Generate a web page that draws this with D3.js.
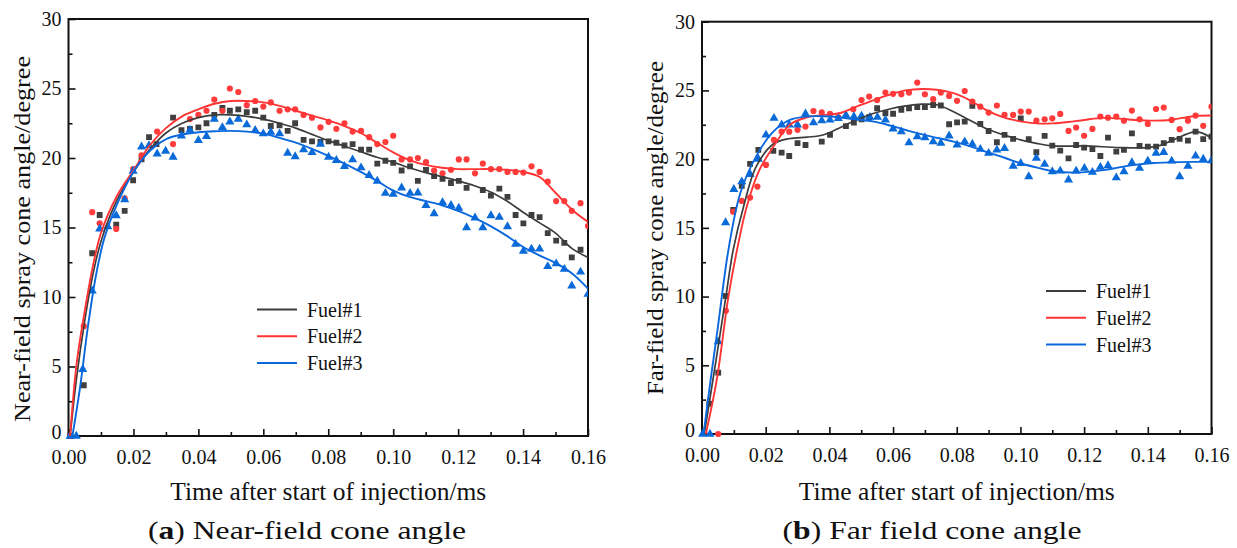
<!DOCTYPE html>
<html><head><meta charset="utf-8">
<script src="https://cdn.jsdelivr.net/npm/d3@7"></script>
<style>
html,body{margin:0;padding:0;background:#fff;}
svg{display:block;}
text{font-family:"Liberation Serif","Times New Roman",Times,serif;fill:#111;}
</style></head><body>
<svg id="chart" width="1237" height="548"></svg>
<script>
// ---------- DATA ----------
const seriesNames = ["Fuel#1", "Fuel#2", "Fuel#3"];
const xTicks = [0, 0.02, 0.04, 0.06, 0.08, 0.10, 0.12, 0.14, 0.16];
const yTicks = [0, 5, 10, 15, 20, 25, 30];

// (a) Near-field measured points [time ms, angle deg]
const nearFuel1 = [[0.0005,0],[0.0047,3.65],[0.0073,13.15],[0.0096,15.9],[0.0147,15.2],[0.0173,16.2],[0.0199,18.4],[0.0225,19.9],[0.0248,21.5],[0.0271,21.0],[0.0322,22.9],[0.0348,22.0],[0.0374,22.1],[0.04,22.2],[0.0425,22.5],[0.0449,23.1],[0.0474,23.6],[0.0497,23.4],[0.0523,23.5],[0.0549,23.3],[0.0575,23.4],[0.06,22.9],[0.0623,22.3],[0.065,22.35],[0.0675,21.95],[0.0698,22.5],[0.0724,21.3],[0.075,21.2],[0.0776,21.15],[0.0801,21.2],[0.0825,21.1],[0.085,20.9],[0.0875,21.0],[0.0901,20.6],[0.0926,20.6],[0.0951,19.6],[0.0976,19.8],[0.1,19.65],[0.1026,19.1],[0.1052,19.4],[0.1076,18.35],[0.1101,19.15],[0.1126,18.7],[0.1152,18.5],[0.1178,18.2],[0.1202,18.35],[0.1226,17.85],[0.1276,17.7],[0.1301,17.3],[0.1327,17.8],[0.1352,17.2],[0.1377,15.9],[0.1401,15.3],[0.1426,15.9],[0.1451,15.75],[0.1476,14.6],[0.1502,14.05],[0.1527,13.9],[0.155,12.85],[0.1577,13.4]];
const nearFuel2 = [[0.0005,0],[0.0047,7.9],[0.0073,16.1],[0.0096,15.3],[0.0147,14.9],[0.0173,17.1],[0.0199,19.2],[0.0225,20.2],[0.0273,21.9],[0.0322,21.0],[0.0374,22.8],[0.04,23.1],[0.0425,23.4],[0.0449,24.2],[0.0474,23.4],[0.0497,25.0],[0.0523,24.75],[0.0549,23.8],[0.0575,24.1],[0.06,23.7],[0.0623,24.0],[0.065,23.4],[0.0675,23.5],[0.0698,23.5],[0.0724,23.1],[0.075,22.9],[0.0776,22.2],[0.0801,22.6],[0.0825,22.1],[0.085,22.5],[0.0875,21.9],[0.0901,21.95],[0.0926,21.5],[0.0951,21.0],[0.0976,21.15],[0.1,21.6],[0.1026,19.9],[0.1052,19.9],[0.1076,20.0],[0.1101,19.7],[0.1126,19.1],[0.1152,18.9],[0.1178,19.15],[0.1202,19.9],[0.1226,19.9],[0.1252,18.9],[0.1276,19.6],[0.1301,19.2],[0.1327,19.2],[0.1352,19.0],[0.1377,19.0],[0.1401,18.95],[0.1426,19.4],[0.1451,19.0],[0.1476,18.3],[0.1502,16.9],[0.1527,16.9],[0.155,16.2],[0.1577,16.75],[0.16,15.1]];
const nearFuel3 = [[0.0005,0],[0.0024,0],[0.0044,4.8],[0.0073,10.45],[0.0096,14.9],[0.0121,15.07],[0.0147,15.86],[0.0173,17.0],[0.0199,19.06],[0.0225,20.8],[0.0248,20.9],[0.0273,20.3],[0.0299,20.5],[0.0322,20.07],[0.0348,21.6],[0.0374,22.0],[0.04,21.27],[0.0425,21.56],[0.0449,22.8],[0.0474,22.2],[0.0497,22.6],[0.0523,22.8],[0.0549,22.4],[0.0575,21.99],[0.06,21.75],[0.0623,21.87],[0.065,21.75],[0.0675,20.36],[0.0698,20.1],[0.0724,20.6],[0.075,20.4],[0.0776,21.0],[0.0801,20.07],[0.0825,19.83],[0.085,19.4],[0.0875,19.88],[0.0901,19.3],[0.0926,18.75],[0.0951,18.34],[0.0976,17.47],[0.1,17.4],[0.1026,17.85],[0.1052,17.47],[0.1076,17.5],[0.1101,16.6],[0.1126,16.0],[0.1152,16.8],[0.1178,16.6],[0.1202,16.4],[0.1226,15.0],[0.1252,15.7],[0.1276,15.0],[0.1301,15.86],[0.1327,15.74],[0.1352,15.07],[0.1377,13.8],[0.1401,13.3],[0.1426,13.46],[0.1451,13.46],[0.1476,12.2],[0.1502,12.4],[0.1527,12.0],[0.155,10.8],[0.1577,11.8],[0.16,10.2]];

// (a) Near-field fitted curves
const nearFit1 = [[0.0005,0],[0.0025,4.2],[0.005,8.3],[0.0075,11.6],[0.01,14.0],[0.015,17.0],[0.02,19.0],[0.025,20.6],[0.03,21.8],[0.035,22.5],[0.04,22.9],[0.045,23.1],[0.05,23.1],[0.055,23.0],[0.06,22.8],[0.065,22.5],[0.07,22.15],[0.075,21.7],[0.08,21.25],[0.085,20.85],[0.09,20.45],[0.095,20.05],[0.1,19.7],[0.105,19.3],[0.11,18.95],[0.115,18.65],[0.12,18.35],[0.125,18.0],[0.13,17.55],[0.135,16.9],[0.14,16.1],[0.145,15.35],[0.15,14.6],[0.155,13.5],[0.16,12.85]];
const nearFit2 = [[0.0005,0],[0.0025,5.2],[0.005,9.0],[0.0075,12.2],[0.01,14.6],[0.015,17.3],[0.02,19.1],[0.025,20.9],[0.03,22.15],[0.035,23.0],[0.04,23.5],[0.045,23.9],[0.05,24.1],[0.055,24.1],[0.06,24.0],[0.065,23.75],[0.07,23.4],[0.075,23.05],[0.08,22.7],[0.085,22.3],[0.09,21.8],[0.095,21.1],[0.1,20.4],[0.105,19.85],[0.11,19.5],[0.115,19.3],[0.12,19.2],[0.125,19.2],[0.13,19.2],[0.135,19.15],[0.14,19.0],[0.145,18.65],[0.15,17.5],[0.155,16.3],[0.16,15.4]];
const nearFit3 = [[0.0012,0],[0.0035,3.4],[0.006,7.9],[0.0085,11.6],[0.011,14.2],[0.015,16.7],[0.02,19.0],[0.025,20.5],[0.03,21.35],[0.035,21.7],[0.04,21.85],[0.045,21.92],[0.05,21.95],[0.055,21.9],[0.06,21.75],[0.065,21.45],[0.07,21.1],[0.075,20.65],[0.08,20.15],[0.085,19.6],[0.09,19.0],[0.095,18.35],[0.1,17.65],[0.105,17.2],[0.11,16.9],[0.115,16.6],[0.12,16.2],[0.125,15.7],[0.13,15.1],[0.135,14.4],[0.14,13.6],[0.145,13.0],[0.15,12.45],[0.155,11.7],[0.16,10.6]];

// (b) Far-field measured points
const farFuel1 = [[0.0023,2.2],[0.0051,4.46],[0.0075,10.04],[0.0098,16.3],[0.0125,18.05],[0.0151,19.65],[0.0177,20.67],[0.0224,20.6],[0.025,20.47],[0.0274,20.23],[0.03,21.16],[0.0325,21.03],[0.0376,21.27],[0.0402,21.76],[0.0452,22.4],[0.0477,22.66],[0.0501,22.9],[0.0525,23.05],[0.055,23.7],[0.0576,23.34],[0.06,23.3],[0.0626,23.58],[0.065,23.7],[0.0676,23.78],[0.07,23.78],[0.0726,23.94],[0.075,23.9],[0.0776,22.54],[0.0801,22.68],[0.0825,22.73],[0.0849,23.87],[0.0874,22.56],[0.09,22.05],[0.0926,21.23],[0.095,21.76],[0.0977,21.47],[0.1001,22.97],[0.1026,21.45],[0.105,20.5],[0.1076,21.69],[0.11,20.98],[0.1125,20.62],[0.1151,20.06],[0.1175,21.03],[0.12,20.84],[0.1226,20.74],[0.1251,20.23],[0.1275,21.57],[0.1301,20.55],[0.1325,20.67],[0.135,21.88],[0.1374,20.96],[0.14,20.91],[0.1426,20.91],[0.145,21.16],[0.1475,21.4],[0.15,21.47],[0.1526,21.35],[0.155,22.0],[0.1574,21.45],[0.16,21.64]];
const farFuel2 = [[0.0051,0],[0.0075,8.97],[0.0098,16.18],[0.0125,16.96],[0.0151,17.2],[0.0174,18.0],[0.0201,19.58],[0.0226,21.4],[0.025,22.0],[0.0274,22.0],[0.03,22.13],[0.0325,22.37],[0.035,23.5],[0.0376,23.4],[0.0402,23.3],[0.0428,23.05],[0.0475,23.63],[0.0501,24.3],[0.0525,24.55],[0.055,24.3],[0.0576,24.84],[0.06,24.75],[0.0626,24.72],[0.065,24.84],[0.0676,25.57],[0.07,24.72],[0.0726,24.36],[0.075,24.84],[0.0776,24.6],[0.0801,24.24],[0.0825,24.96],[0.0849,24.19],[0.0874,23.82],[0.09,23.39],[0.0926,23.9],[0.095,23.22],[0.0977,23.22],[0.1001,23.46],[0.1026,23.46],[0.105,22.8],[0.1076,22.9],[0.11,22.97],[0.1125,23.29],[0.1151,22.05],[0.1175,22.3],[0.12,21.7],[0.1226,22.2],[0.1251,23.1],[0.1275,23.02],[0.1301,23.1],[0.1325,22.8],[0.135,23.53],[0.1374,22.9],[0.14,22.56],[0.1426,23.65],[0.145,23.75],[0.1475,22.85],[0.15,22.18],[0.1526,22.8],[0.155,23.17],[0.1574,22.42],[0.16,23.82]];
const farFuel3 = [[0.0002,0],[0.0025,0],[0.0051,6.72],[0.0074,15.38],[0.01,17.8],[0.0125,18.36],[0.0151,18.9],[0.0177,20.0],[0.0201,21.76],[0.0226,22.98],[0.025,22.5],[0.0274,22.5],[0.03,22.5],[0.0325,23.3],[0.035,22.65],[0.0376,22.8],[0.0402,22.85],[0.0428,22.97],[0.0452,23.2],[0.0477,23.1],[0.0501,23.14],[0.0527,23.05],[0.0551,23.05],[0.0576,22.85],[0.06,22.2],[0.0626,22.0],[0.065,21.2],[0.0676,21.64],[0.07,21.57],[0.0726,21.27],[0.075,21.16],[0.0776,21.7],[0.0801,21.03],[0.0825,21.27],[0.0849,21.1],[0.0874,20.72],[0.09,20.43],[0.0926,20.67],[0.095,20.79],[0.0977,19.5],[0.1001,19.7],[0.1026,18.73],[0.105,20.07],[0.1076,19.63],[0.11,19.1],[0.1125,19.14],[0.1151,18.49],[0.1175,19.14],[0.1201,19.34],[0.1226,19.05],[0.1251,19.41],[0.1275,19.53],[0.1301,18.65],[0.1325,19.1],[0.135,19.75],[0.1374,19.34],[0.14,19.87],[0.1426,20.43],[0.145,20.5],[0.1475,19.87],[0.15,18.73],[0.1526,19.5],[0.155,20.23],[0.1574,20.0],[0.16,19.9]];

// (b) Far-field fitted curves
const farFit1 = [[0.0007,0],[0.0045,5.5],[0.0075,10.0],[0.0098,13.4],[0.013,16.5],[0.017,19.45],[0.0224,21.1],[0.0276,21.5],[0.033,21.6],[0.038,21.76],[0.043,22.25],[0.0485,22.85],[0.054,23.34],[0.059,23.65],[0.064,23.87],[0.069,24.0],[0.074,23.94],[0.079,23.45],[0.084,22.85],[0.089,22.25],[0.095,21.75],[0.1,21.4],[0.105,21.15],[0.11,20.96],[0.12,20.96],[0.131,20.84],[0.14,20.84],[0.144,21.0],[0.148,21.4],[0.152,21.8],[0.155,22.0],[0.158,21.8],[0.16,21.5]];
const farFit2 = [[0.0012,0],[0.0046,3.9],[0.0083,10.0],[0.011,13.4],[0.014,16.5],[0.018,19.2],[0.0224,20.9],[0.0276,22.5],[0.033,23.05],[0.038,23.2],[0.043,23.34],[0.0485,23.82],[0.054,24.3],[0.059,24.7],[0.064,25.0],[0.069,25.1],[0.0736,25.05],[0.079,24.8],[0.084,24.3],[0.089,23.6],[0.0945,23.05],[0.1,22.75],[0.105,22.6],[0.11,22.6],[0.115,22.7],[0.12,22.85],[0.126,23.0],[0.131,22.95],[0.136,22.85],[0.142,22.8],[0.147,22.85],[0.151,23.0],[0.155,23.14],[0.16,23.17]];
const farFit3 = [[0.0005,0],[0.0025,3.6],[0.005,7.8],[0.0083,13.4],[0.012,17.5],[0.017,20.2],[0.0224,22.0],[0.0276,22.85],[0.033,23.1],[0.038,23.12],[0.043,23.05],[0.048,22.9],[0.054,22.73],[0.059,22.45],[0.064,22.12],[0.07,21.75],[0.079,21.27],[0.084,20.95],[0.089,20.55],[0.095,20.1],[0.1,19.7],[0.105,19.4],[0.11,19.14],[0.1175,19.02],[0.126,19.2],[0.131,19.4],[0.136,19.58],[0.142,19.72],[0.147,19.77],[0.154,19.8],[0.16,19.8]];

// ---------- STYLE ----------
const serif = '"Liberation Serif","Times New Roman",Times,serif';
const lineColors = ["#3c3c3c", "#ff3434", "#0a68dc"];
const markColors = ["#3f3f3f", "#ff3b3b", "#0a6ad8"];
const symbols = [d3.symbolSquare, d3.symbolCircle, d3.symbolTriangle];
const symSizes = [34, 30, 36];

const svg = d3.select("#chart").attr("font-family", serif);

function panel(cfg) {
  const x = d3.scaleLinear().domain([0, 0.16]).range([cfg.x0, cfg.x1]);
  const y = d3.scaleLinear().domain([0, 30]).range([cfg.y0, cfg.y1]);
  const g = svg.append("g");

  // x axis
  const xa = g.append("g").attr("transform", `translate(0,${cfg.y0})`)
    .call(d3.axisBottom(x).tickValues(xTicks).tickSize(-7).tickPadding(14).tickFormat(d3.format(".2f")));
  const xm = g.append("g").attr("transform", `translate(0,${cfg.y0})`)
    .call(d3.axisBottom(x).tickValues(d3.range(0.01, 0.16, 0.02)).tickSize(-4).tickFormat(""));
  // y axis
  const ya = g.append("g").attr("transform", `translate(${cfg.x0},0)`)
    .call(d3.axisLeft(y).tickValues(yTicks).tickSize(-7).tickPadding(7).tickFormat(d3.format("d")));
  const ym = g.append("g").attr("transform", `translate(${cfg.x0},0)`)
    .call(d3.axisLeft(y).tickValues(d3.range(2.5, 30, 5)).tickSize(-4).tickFormat(""));
  [xa, xm, ya, ym].forEach(a => {
    a.attr("font-family", serif).attr("font-size", 20);
    a.select(".domain").remove();
    a.selectAll(".tick line").attr("stroke", "#111").attr("stroke-width", 1.6);
    a.selectAll(".tick text").style("font-family", serif).style("font-size", "20px").attr("fill", "#111");
  });
  // y "0" label nudged up slightly so it clears the x labels
  ya.selectAll(".tick text").filter(d => d === 0).attr("dy", "0.1em");
  // frame
  g.append("rect").attr("x", cfg.x0).attr("y", cfg.y1)
    .attr("width", cfg.x1 - cfg.x0).attr("height", cfg.y0 - cfg.y1)
    .attr("fill", "none").attr("stroke", "#111").attr("stroke-width", 2);

  const clipId = "clip" + cfg.id;
  g.append("clipPath").attr("id", clipId).append("rect")
    .attr("x", cfg.x0 - 4).attr("y", cfg.y1).attr("width", cfg.x1 - cfg.x0 + 4).attr("height", cfg.y0 - cfg.y1 + 4);

  const line = d3.line().x(d => x(d[0])).y(d => y(d[1])).curve(d3.curveCatmullRom.alpha(0.5));

  const plot = g.append("g").attr("clip-path", `url(#${clipId})`);
  cfg.points.forEach((pts, i) => {
    plot.append("g").selectAll("path").data(pts).join("path")
      .attr("transform", d => `translate(${x(d[0])},${y(d[1])})`)
      .attr("d", d3.symbol().type(symbols[i]).size(symSizes[i]))
      .attr("fill", markColors[i]);
  });
  cfg.fits.forEach((f, i) => {
    plot.append("path").datum(f).attr("d", line)
      .attr("fill", "none").attr("stroke", lineColors[i]).attr("stroke-width", i === 0 ? 1.7 : 1.9);
  });

  // legend
  seriesNames.forEach((name, i) => {
    const ly = cfg.legY + i * 26.8;
    g.append("line").attr("x1", cfg.legX).attr("x2", cfg.legX + 40).attr("y1", ly).attr("y2", ly)
      .attr("stroke", lineColors[i]).attr("stroke-width", 2);
    g.append("text").attr("x", cfg.legX + 50).attr("y", ly + 7)
      .style("font-family", serif).style("font-size", "20px").text(name);
  });

  // axis titles
  g.append("text").attr("x", (cfg.x0 + cfg.x1) / 2).attr("y", 500).attr("text-anchor", "middle")
    .style("font-family", serif).style("font-size", "25px").attr("textLength", 316).attr("lengthAdjust", "spacingAndGlyphs")
    .text("Time after start of injection/ms");
  g.append("text").attr("transform", `translate(${cfg.yTitleX},${cfg.yTitleY}) rotate(-90)`)
    .attr("text-anchor", "middle").style("font-family", serif).style("font-size", "24px")
    .attr("textLength", cfg.yTitleLen).attr("lengthAdjust", "spacingAndGlyphs")
    .text(cfg.yTitle);
  // caption
  const cap = g.append("text").attr("x", cfg.capX).attr("y", 539).attr("text-anchor", "middle")
    .style("font-family", serif).style("font-size", "26px")
    .attr("textLength", cfg.capLen).attr("lengthAdjust", "spacingAndGlyphs");
  cap.append("tspan").text("(");
  cap.append("tspan").style("font-weight", "bold").text(cfg.capLetter);
  cap.append("tspan").text(") " + cfg.capText);
}

panel({id: "a", x0: 68.5, x1: 588, y0: 436, y1: 19,
  points: [nearFuel1, nearFuel2, nearFuel3], fits: [nearFit1, nearFit2, nearFit3],
  legX: 257, legY: 309.5,
  yTitle: "Near-field spray cone angle/degree", yTitleX: 30, yTitleY: 239, yTitleLen: 366,
  capX: 307, capLen: 318, capLetter: "a", capText: "Near-field cone angle"});

panel({id: "b", x0: 702, x1: 1211.5, y0: 434, y1: 21.7,
  points: [farFuel1, farFuel2, farFuel3], fits: [farFit1, farFit2, farFit3],
  legX: 1046, legY: 291,
  yTitle: "Far-field spray cone angle/degree", yTitleX: 663, yTitleY: 228, yTitleLen: 334,
  capX: 932, capLen: 299, capLetter: "b", capText: "Far field cone angle"});
</script>
</body></html>
